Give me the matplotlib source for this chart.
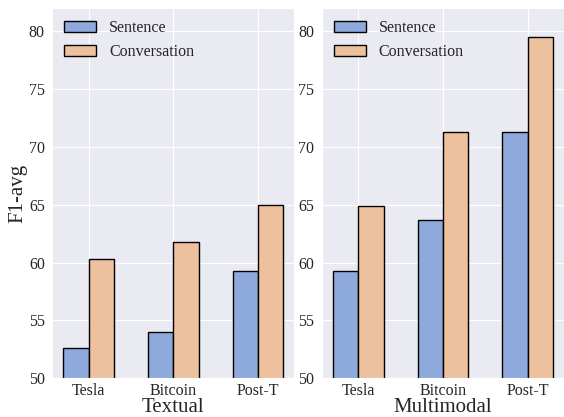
import matplotlib
matplotlib.use("Agg")
import matplotlib.pyplot as plt
import numpy as np
import seaborn as sns

categories = ["Tesla", "Bitcoin", "Post-T"]
textual_sentence = [52.6, 54.0, 59.3]
textual_conversation = [60.3, 61.8, 65.0]
multimodal_sentence = [59.3, 63.7, 71.3]
multimodal_conversation = [64.9, 71.3, 79.5]
panel_titles = ["Textual", "Multimodal"]

sns.set_style("darkgrid")
plt.rcParams["font.family"] = ["Liberation Serif", "DejaVu Serif"]

c_sent = "#8eaadc"
c_conv = "#edc19d"


def main():
    fig, axes = plt.subplots(1, 2, figsize=(5.64, 4.17), dpi=100)
    x = np.arange(len(categories))
    w = 0.3
    data = [(textual_sentence, textual_conversation),
            (multimodal_sentence, multimodal_conversation)]

    for ax, (s, c), name in zip(axes, data, panel_titles):
        ax.bar(x - w / 2, s, w, color=c_sent, edgecolor="black", linewidth=1, label="Sentence")
        ax.bar(x + w / 2, c, w, color=c_conv, edgecolor="black", linewidth=1, label="Conversation")
        ax.set_ylim(50, 82)
        ax.set_yticks([50, 55, 60, 65, 70, 75, 80])
        ax.set_xticks(x)
        ax.set_xticklabels(categories)
        ax.tick_params(axis="x", labelsize=11.5, pad=0)
        ax.tick_params(axis="y", labelsize=11.5, pad=2)
        ax.set_xlabel(name, fontsize=15, labelpad=-1)
        ax.legend(loc="upper left", frameon=False, fontsize=11.5, borderaxespad=0.35)

    axes[0].set_ylabel("F1-avg", fontsize=15, labelpad=1)

    fig.subplots_adjust(left=0.093, right=1.0, top=0.98, bottom=0.093, wspace=0.115)
    fig.savefig("out.png")


if __name__ == "__main__":
    main()
